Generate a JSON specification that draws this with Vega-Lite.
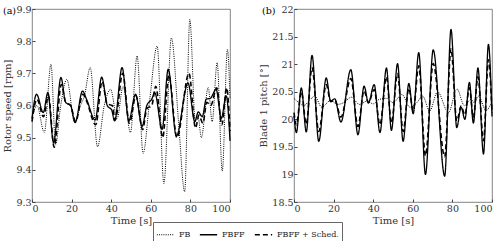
{
  "$schema": "https://vega.github.io/schema/vega-lite/v6.json",
  "padding": {"left": 2, "top": 3, "right": 6, "bottom": 2},
  "background": "white",
  "datasets": {
    "a": [
      {"t": 0, "v": 9.56, "s": "FB"}, {"t": 2.5, "v": 9.6, "s": "FB"}, {"t": 6.2, "v": 9.516, "s": "FB"}, {"t": 9.6, "v": 9.728, "s": "FB"}, {"t": 11.9, "v": 9.478, "s": "FB"}, {"t": 14.5, "v": 9.6, "s": "FB"}, {"t": 17.6, "v": 9.681, "s": "FB"}, {"t": 21.5, "v": 9.548, "s": "FB"}, {"t": 24.5, "v": 9.6, "s": "FB"}, {"t": 26.5, "v": 9.63, "s": "FB"}, {"t": 29.4, "v": 9.718, "s": "FB"}, {"t": 33.1, "v": 9.472, "s": "FB"}, {"t": 36.5, "v": 9.6, "s": "FB"}, {"t": 39.7, "v": 9.65, "s": "FB"}, {"t": 43, "v": 9.56, "s": "FB"}, {"t": 46, "v": 9.66, "s": "FB"}, {"t": 49.7, "v": 9.516, "s": "FB"}, {"t": 53.1, "v": 9.754, "s": "FB"}, {"t": 56.1, "v": 9.451, "s": "FB"}, {"t": 59.5, "v": 9.62, "s": "FB"}, {"t": 63.2, "v": 9.785, "s": "FB"}, {"t": 66.6, "v": 9.357, "s": "FB"}, {"t": 70.4, "v": 9.81, "s": "FB"}, {"t": 74, "v": 9.55, "s": "FB"}, {"t": 77.1, "v": 9.332, "s": "FB"}, {"t": 79.7, "v": 9.868, "s": "FB"}, {"t": 82.5, "v": 9.55, "s": "FB"}, {"t": 84, "v": 9.56, "s": "FB"}, {"t": 85.5, "v": 9.5, "s": "FB"}, {"t": 89, "v": 9.656, "s": "FB"}, {"t": 91, "v": 9.55, "s": "FB"}, {"t": 93.5, "v": 9.733, "s": "FB"}, {"t": 96.1, "v": 9.396, "s": "FB"}, {"t": 98.7, "v": 9.775, "s": "FB"}, {"t": 100, "v": 9.62, "s": "FB"},
      {"t": 0, "v": 9.55, "s": "FBFF + Sched."}, {"t": 2.5, "v": 9.62, "s": "FBFF + Sched."}, {"t": 5.8, "v": 9.565, "s": "FBFF + Sched."}, {"t": 8.3, "v": 9.63, "s": "FBFF + Sched."}, {"t": 11.2, "v": 9.47, "s": "FBFF + Sched."}, {"t": 14.8, "v": 9.665, "s": "FBFF + Sched."}, {"t": 17, "v": 9.61, "s": "FBFF + Sched."}, {"t": 19.5, "v": 9.6, "s": "FBFF + Sched."}, {"t": 22, "v": 9.55, "s": "FBFF + Sched."}, {"t": 25.7, "v": 9.635, "s": "FBFF + Sched."}, {"t": 27.5, "v": 9.615, "s": "FBFF + Sched."}, {"t": 32.2, "v": 9.54, "s": "FBFF + Sched."}, {"t": 35.4, "v": 9.675, "s": "FBFF + Sched."}, {"t": 38, "v": 9.605, "s": "FBFF + Sched."}, {"t": 40.5, "v": 9.6, "s": "FBFF + Sched."}, {"t": 42, "v": 9.555, "s": "FBFF + Sched."}, {"t": 45.8, "v": 9.7, "s": "FBFF + Sched."}, {"t": 49.2, "v": 9.545, "s": "FBFF + Sched."}, {"t": 52.5, "v": 9.63, "s": "FBFF + Sched."}, {"t": 55.9, "v": 9.525, "s": "FBFF + Sched."}, {"t": 58, "v": 9.59, "s": "FBFF + Sched."}, {"t": 60.5, "v": 9.6, "s": "FBFF + Sched."}, {"t": 62.5, "v": 9.66, "s": "FBFF + Sched."}, {"t": 66, "v": 9.5, "s": "FBFF + Sched."}, {"t": 69.1, "v": 9.695, "s": "FBFF + Sched."}, {"t": 73.2, "v": 9.5, "s": "FBFF + Sched."}, {"t": 79.3, "v": 9.7, "s": "FBFF + Sched."}, {"t": 82.6, "v": 9.53, "s": "FBFF + Sched."}, {"t": 84.3, "v": 9.57, "s": "FBFF + Sched."}, {"t": 86.3, "v": 9.545, "s": "FBFF + Sched."}, {"t": 88.3, "v": 9.61, "s": "FBFF + Sched."}, {"t": 90.3, "v": 9.6, "s": "FBFF + Sched."}, {"t": 93.3, "v": 9.655, "s": "FBFF + Sched."}, {"t": 95.9, "v": 9.54, "s": "FBFF + Sched."}, {"t": 98.3, "v": 9.655, "s": "FBFF + Sched."}, {"t": 100, "v": 9.52, "s": "FBFF + Sched."},
      {"t": 0, "v": 9.56, "s": "FBFF"}, {"t": 2.3, "v": 9.635, "s": "FBFF"}, {"t": 5.7, "v": 9.578, "s": "FBFF"}, {"t": 8.0, "v": 9.64, "s": "FBFF"}, {"t": 10.9, "v": 9.484, "s": "FBFF"}, {"t": 14.6, "v": 9.687, "s": "FBFF"}, {"t": 17, "v": 9.61, "s": "FBFF"}, {"t": 19.5, "v": 9.6, "s": "FBFF"}, {"t": 21.8, "v": 9.547, "s": "FBFF"}, {"t": 25.5, "v": 9.645, "s": "FBFF"}, {"t": 27.5, "v": 9.62, "s": "FBFF"}, {"t": 31.9, "v": 9.555, "s": "FBFF"}, {"t": 35.2, "v": 9.688, "s": "FBFF"}, {"t": 38, "v": 9.6, "s": "FBFF"}, {"t": 40.3, "v": 9.585, "s": "FBFF"}, {"t": 41.7, "v": 9.552, "s": "FBFF"}, {"t": 45.5, "v": 9.718, "s": "FBFF"}, {"t": 48.9, "v": 9.553, "s": "FBFF"}, {"t": 52.3, "v": 9.635, "s": "FBFF"}, {"t": 55.6, "v": 9.535, "s": "FBFF"}, {"t": 58, "v": 9.6, "s": "FBFF"}, {"t": 60.5, "v": 9.62, "s": "FBFF"}, {"t": 62, "v": 9.64, "s": "FBFF"}, {"t": 65.7, "v": 9.526, "s": "FBFF"}, {"t": 68.8, "v": 9.713, "s": "FBFF"}, {"t": 72.9, "v": 9.505, "s": "FBFF"}, {"t": 78.8, "v": 9.67, "s": "FBFF"}, {"t": 82.2, "v": 9.55, "s": "FBFF"}, {"t": 84, "v": 9.58, "s": "FBFF"}, {"t": 86, "v": 9.565, "s": "FBFF"}, {"t": 88, "v": 9.62, "s": "FBFF"}, {"t": 90, "v": 9.622, "s": "FBFF"}, {"t": 93, "v": 9.65, "s": "FBFF"}, {"t": 95.6, "v": 9.56, "s": "FBFF"}, {"t": 98.1, "v": 9.63, "s": "FBFF"}, {"t": 100, "v": 9.49, "s": "FBFF"}
    ],
    "b": [
      {"t": 0, "v": 20.38, "s": "FB"}, {"t": 2.5, "v": 20.3, "s": "FB"}, {"t": 5, "v": 20.25, "s": "FB"}, {"t": 8, "v": 20.35, "s": "FB"}, {"t": 10.5, "v": 20.42, "s": "FB"}, {"t": 14, "v": 20.22, "s": "FB"}, {"t": 18.5, "v": 20.34, "s": "FB"}, {"t": 22, "v": 20.27, "s": "FB"}, {"t": 25, "v": 20.3, "s": "FB"}, {"t": 29, "v": 20.4, "s": "FB"}, {"t": 33, "v": 20.27, "s": "FB"}, {"t": 37, "v": 20.33, "s": "FB"}, {"t": 40, "v": 20.28, "s": "FB"}, {"t": 43, "v": 20.36, "s": "FB"}, {"t": 47, "v": 20.38, "s": "FB"}, {"t": 50, "v": 20.3, "s": "FB"}, {"t": 54.5, "v": 20.45, "s": "FB"}, {"t": 58.5, "v": 20.22, "s": "FB"}, {"t": 62, "v": 20.3, "s": "FB"}, {"t": 65, "v": 20.42, "s": "FB"}, {"t": 68.5, "v": 20.15, "s": "FB"}, {"t": 72.5, "v": 20.5, "s": "FB"}, {"t": 78, "v": 20.12, "s": "FB"}, {"t": 82.3, "v": 20.55, "s": "FB"}, {"t": 86, "v": 20.25, "s": "FB"}, {"t": 89.5, "v": 20.36, "s": "FB"}, {"t": 91, "v": 20.3, "s": "FB"}, {"t": 93.2, "v": 20.42, "s": "FB"}, {"t": 97, "v": 20.16, "s": "FB"}, {"t": 100, "v": 20.33, "s": "FB"},
      {"t": 0, "v": 20.12, "s": "FBFF + Sched."}, {"t": 1.2, "v": 19.9, "s": "FBFF + Sched."}, {"t": 3.7, "v": 20.5, "s": "FBFF + Sched."}, {"t": 6.2, "v": 19.91, "s": "FBFF + Sched."}, {"t": 9.1, "v": 20.94, "s": "FBFF + Sched."}, {"t": 12.5, "v": 19.78, "s": "FBFF + Sched."}, {"t": 16.3, "v": 20.63, "s": "FBFF + Sched."}, {"t": 18.5, "v": 20.32, "s": "FBFF + Sched."}, {"t": 20.6, "v": 20.35, "s": "FBFF + Sched."}, {"t": 23.7, "v": 20.04, "s": "FBFF + Sched."}, {"t": 28.7, "v": 20.74, "s": "FBFF + Sched."}, {"t": 32.3, "v": 19.87, "s": "FBFF + Sched."}, {"t": 35.4, "v": 20.52, "s": "FBFF + Sched."}, {"t": 37.6, "v": 20.3, "s": "FBFF + Sched."}, {"t": 40.5, "v": 20.54, "s": "FBFF + Sched."}, {"t": 43.4, "v": 19.9, "s": "FBFF + Sched."}, {"t": 46.7, "v": 20.77, "s": "FBFF + Sched."}, {"t": 49.2, "v": 19.93, "s": "FBFF + Sched."}, {"t": 52.3, "v": 20.83, "s": "FBFF + Sched."}, {"t": 55.1, "v": 19.78, "s": "FBFF + Sched."}, {"t": 58, "v": 20.56, "s": "FBFF + Sched."}, {"t": 60.2, "v": 20.15, "s": "FBFF + Sched."}, {"t": 63, "v": 20.97, "s": "FBFF + Sched."}, {"t": 66.4, "v": 19.34, "s": "FBFF + Sched."}, {"t": 70.3, "v": 21.01, "s": "FBFF + Sched."}, {"t": 76.1, "v": 19.32, "s": "FBFF + Sched."}, {"t": 79.3, "v": 21.28, "s": "FBFF + Sched."}, {"t": 82.2, "v": 19.97, "s": "FBFF + Sched."}, {"t": 84.4, "v": 20.24, "s": "FBFF + Sched."}, {"t": 86.3, "v": 20.08, "s": "FBFF + Sched."}, {"t": 88.6, "v": 20.57, "s": "FBFF + Sched."}, {"t": 90.6, "v": 20.03, "s": "FBFF + Sched."}, {"t": 92.9, "v": 20.77, "s": "FBFF + Sched."}, {"t": 95.7, "v": 19.61, "s": "FBFF + Sched."}, {"t": 98.2, "v": 21.08, "s": "FBFF + Sched."}, {"t": 100, "v": 20.12, "s": "FBFF + Sched."},
      {"t": 0, "v": 20.06, "s": "FBFF"}, {"t": 1.2, "v": 19.76, "s": "FBFF"}, {"t": 3.7, "v": 20.57, "s": "FBFF"}, {"t": 6.2, "v": 19.77, "s": "FBFF"}, {"t": 9.1, "v": 21.16, "s": "FBFF"}, {"t": 12.5, "v": 19.6, "s": "FBFF"}, {"t": 16.3, "v": 20.75, "s": "FBFF"}, {"t": 18.5, "v": 20.33, "s": "FBFF"}, {"t": 20.6, "v": 20.37, "s": "FBFF"}, {"t": 23.7, "v": 19.95, "s": "FBFF"}, {"t": 28.7, "v": 20.9, "s": "FBFF"}, {"t": 32.3, "v": 19.72, "s": "FBFF"}, {"t": 35.4, "v": 20.6, "s": "FBFF"}, {"t": 37.6, "v": 20.3, "s": "FBFF"}, {"t": 40.5, "v": 20.63, "s": "FBFF"}, {"t": 43.4, "v": 19.76, "s": "FBFF"}, {"t": 46.7, "v": 20.93, "s": "FBFF"}, {"t": 49.2, "v": 19.8, "s": "FBFF"}, {"t": 52.3, "v": 21.01, "s": "FBFF"}, {"t": 55.1, "v": 19.6, "s": "FBFF"}, {"t": 58, "v": 20.65, "s": "FBFF"}, {"t": 60.2, "v": 20.1, "s": "FBFF"}, {"t": 63, "v": 21.21, "s": "FBFF"}, {"t": 66.4, "v": 19.0, "s": "FBFF"}, {"t": 70.3, "v": 21.26, "s": "FBFF"}, {"t": 76.1, "v": 18.97, "s": "FBFF"}, {"t": 79.3, "v": 21.63, "s": "FBFF"}, {"t": 82.2, "v": 19.85, "s": "FBFF"}, {"t": 84.4, "v": 20.22, "s": "FBFF"}, {"t": 86.3, "v": 20.0, "s": "FBFF"}, {"t": 88.6, "v": 20.67, "s": "FBFF"}, {"t": 90.6, "v": 19.93, "s": "FBFF"}, {"t": 92.9, "v": 20.93, "s": "FBFF"}, {"t": 95.7, "v": 19.37, "s": "FBFF"}, {"t": 98.2, "v": 21.36, "s": "FBFF"}, {"t": 100, "v": 20.05, "s": "FBFF"}
    ]
  },
  "hconcat": [
    {
      "width": 198,
      "height": 193,
      "title": {"text": "(a)", "anchor": "start", "frame": "group", "offset": -16, "baseline": "middle", "dx": -29, "fontSize": 9.5, "fontWeight": "normal", "font": "DejaVu Serif"},
      "data": {"name": "a"},
      "mark": {"type": "line", "color": "black", "interpolate": "monotone"},
      "encoding": {
        "x": {"field": "t", "type": "quantitative", "scale": {"domain": [0, 100], "nice": false}, "axis": {"values": [0, 20, 40, 60, 80, 100], "title": "Time [s]"}},
        "y": {"field": "v", "type": "quantitative", "scale": {"domain": [9.3, 9.9], "nice": false, "zero": false}, "axis": {"values": [9.3, 9.4, 9.5, 9.6, 9.7, 9.8, 9.9], "format": ".1f", "title": "Rotor speed [rpm]"}},
        "strokeDash": {"field": "s", "type": "nominal", "scale": {"domain": ["FB", "FBFF", "FBFF + Sched."], "range": [[1, 1.2], [1, 0], [5, 3]]}, "legend": {"title": null}},
        "strokeWidth": {"field": "s", "type": "nominal", "scale": {"domain": ["FB", "FBFF", "FBFF + Sched."], "range": [1, 1.6, 1.5]}, "legend": {"title": null}}
      }
    },
    {
      "width": 198,
      "height": 193,
      "title": {"text": "(b)", "anchor": "start", "frame": "group", "offset": -16, "baseline": "middle", "dx": -32, "fontSize": 9.5, "fontWeight": "normal", "font": "DejaVu Serif"},
      "data": {"name": "b"},
      "mark": {"type": "line", "color": "black", "interpolate": "monotone"},
      "encoding": {
        "x": {"field": "t", "type": "quantitative", "scale": {"domain": [0, 100], "nice": false}, "axis": {"values": [0, 20, 40, 60, 80, 100], "title": "Time [s]"}},
        "y": {"field": "v", "type": "quantitative", "scale": {"domain": [18.5, 22], "nice": false, "zero": false}, "axis": {"values": [18.5, 19, 19.5, 20, 20.5, 21, 21.5, 22], "format": "~g", "title": "Blade 1 pitch [°]"}},
        "strokeDash": {"field": "s", "type": "nominal", "scale": {"domain": ["FB", "FBFF", "FBFF + Sched."], "range": [[1, 1.2], [1, 0], [5, 3]]}, "legend": {"title": null}},
        "strokeWidth": {"field": "s", "type": "nominal", "scale": {"domain": ["FB", "FBFF", "FBFF + Sched."], "range": [1, 1.6, 1.5]}, "legend": {"title": null}}
      }
    }
  ],
  "spacing": 24,
  "config": {
    "font": "DejaVu Serif",
    "view": {"stroke": "#666", "strokeWidth": 0.8},
    "axis": {"grid": false, "domain": false, "tickSize": -3, "tickColor": "#444", "labelFont": "DejaVu Serif", "titleFont": "DejaVu Serif", "labelFontSize": 9.5, "titleFontSize": 10, "titleFontWeight": "normal", "labelColor": "#333", "titleColor": "#333", "labelPadding": 4, "titlePadding": 3},
    "legend": {"orient": "none", "legendX": 121, "legendY": 213, "direction": "horizontal", "strokeColor": "#666", "padding": 3, "labelFont": "DejaVu Serif", "labelFontSize": 8, "labelColor": "#222", "symbolType": "stroke", "symbolStrokeColor": "black", "columnPadding": 6, "symbolSize": 300}
  }
}
